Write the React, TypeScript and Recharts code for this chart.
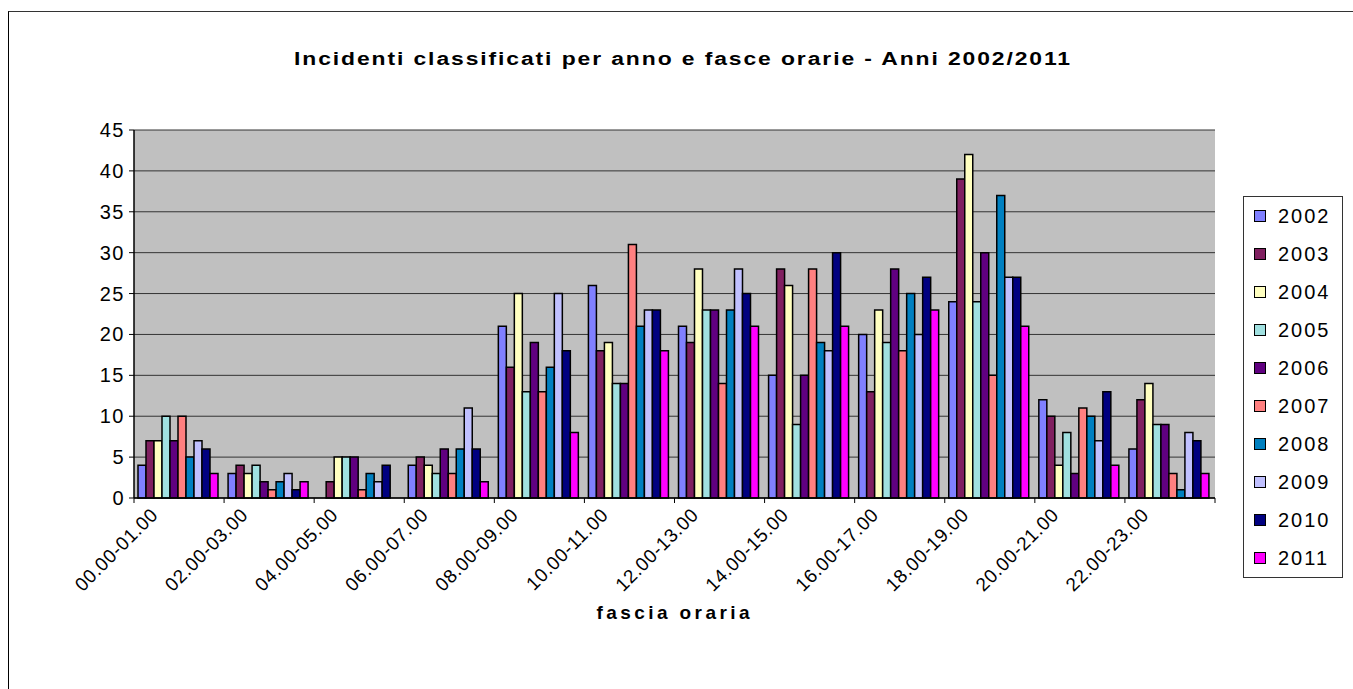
import { BarChart, Bar, XAxis, YAxis, CartesianGrid } from 'recharts'

const SLOTS = ['00.00-01.00', '02.00-03.00', '04.00-05.00', '06.00-07.00', '08.00-09.00', '10.00-11.00', '12.00-13.00', '14.00-15.00', '16.00-17.00', '18.00-19.00', '20.00-21.00', '22.00-23.00']
const YEARS = ['2002', '2003', '2004', '2005', '2006', '2007', '2008', '2009', '2010', '2011']
const COLORS = ['#8080FF', '#802060', '#FFFFC0', '#A0E0E0', '#600080', '#FF8080', '#0080C0', '#C0C0FF', '#000080', '#FF00FF']
const Y_TICKS = [0, 5, 10, 15, 20, 25, 30, 35, 40, 45]

const V2002 = [4, 3, 0, 4, 21, 26, 21, 15, 20, 24, 12, 6]
const V2003 = [7, 4, 2, 5, 16, 18, 19, 28, 13, 39, 10, 12]
const V2004 = [7, 3, 5, 4, 25, 19, 28, 26, 23, 42, 4, 14]
const V2005 = [10, 4, 5, 3, 13, 14, 23, 9, 19, 24, 8, 9]
const V2006 = [7, 2, 5, 6, 19, 14, 23, 15, 28, 30, 3, 9]
const V2007 = [10, 1, 1, 3, 13, 31, 14, 28, 18, 15, 11, 3]
const V2008 = [5, 2, 3, 6, 16, 21, 23, 19, 25, 37, 10, 1]
const V2009 = [7, 3, 2, 11, 25, 23, 28, 18, 20, 27, 7, 8]
const V2010 = [6, 1, 4, 6, 18, 23, 25, 30, 27, 27, 13, 7]
const V2011 = [3, 2, 0, 2, 8, 18, 21, 21, 23, 21, 4, 3]
const SERIES = [V2002, V2003, V2004, V2005, V2006, V2007, V2008, V2009, V2010, V2011]

const data = SLOTS.map((slot, i) => {
  const row: Record<string, string | number> = { slot }
  YEARS.forEach((y, k) => { row[y] = SERIES[k][i] })
  return row
})

const W = 1344
const H = 677
const PLOT_LEFT = 125
const PLOT_RIGHT = 1206
const PLOT_TOP = 118
const PLOT_BOTTOM = 486
const Y_AXIS_W = 60
const X_AXIS_H = 100
const BAND = (PLOT_RIGHT - PLOT_LEFT) / SLOTS.length
const FONT = 'Arial, "Liberation Sans", sans-serif'

const XTick = (props: any) => {
  const { x, payload, index } = props
  const half = BAND / 2
  const tx = x - 20
  const ty = PLOT_BOTTOM + 18
  return (
    <g>
      <line x1={x - half} x2={x - half} y1={PLOT_BOTTOM} y2={PLOT_BOTTOM + 5} stroke="#000" />
      {index === SLOTS.length - 1 && <line x1={x + half} x2={x + half} y1={PLOT_BOTTOM} y2={PLOT_BOTTOM + 5} stroke="#000" />}
      <text x={tx} y={ty} textAnchor="end" transform={`rotate(-45 ${tx} ${ty})`} fontFamily={FONT} fontSize={19} letterSpacing={0.6} fill="#000">
        {payload.value}
      </text>
    </g>
  )
}

const YTick = (props: any) => {
  const { y, payload } = props
  return (
    <text x={PLOT_LEFT - 9} y={y + 7} textAnchor="end" fontFamily={FONT} fontSize={20} letterSpacing={1.5} fill="#000">
      {payload.value}
    </text>
  )
}

export default function App() {
  return (
    <div style={{ position: 'absolute', left: 8, top: 11, width: W + 1, height: H + 1, borderLeft: '1px solid #000', borderTop: '1px solid #333', background: '#fff' }}>
      <div style={{ position: 'absolute', left: 0, top: 0 }}>
        <BarChart
          width={W}
          height={H}
          data={data}
          margin={{ top: PLOT_TOP, left: PLOT_LEFT - Y_AXIS_W, right: W - PLOT_RIGHT, bottom: H - PLOT_BOTTOM - X_AXIS_H }}
          barCategoryGap={4}
          barGap={0}
        >
          <CartesianGrid vertical={false} fill="#C0C0C0" fillOpacity={1} stroke="#333" strokeWidth={1} />
          <XAxis dataKey="slot" interval={0} height={X_AXIS_H} tick={<XTick />} tickLine={false} axisLine={{ stroke: '#000', strokeWidth: 1.5 }} />
          <YAxis width={Y_AXIS_W} domain={[0, 45]} ticks={Y_TICKS} interval={0} tick={<YTick />} tickSize={5} tickLine={{ stroke: '#000' }} axisLine={{ stroke: '#000', strokeWidth: 1.5 }} />
          <YAxis yAxisId="r" orientation="right" width={0} domain={[0, 45]} tick={false} tickLine={false} axisLine={{ stroke: '#808080', strokeWidth: 2 }} />
          {YEARS.map((y, k) => (
            <Bar key={y} dataKey={y} fill={COLORS[k]} stroke="#000" strokeWidth={1.5} isAnimationActive={false} />
          ))}
        </BarChart>
      </div>
      <svg width={W} height={H} style={{ position: 'absolute', left: 0, top: 0, pointerEvents: 'none' }}>
        <text x={674} y={53} textAnchor="middle" fontFamily={FONT} fontSize={18} fontWeight="bold" letterSpacing={1.5} textLength={778} lengthAdjust="spacingAndGlyphs">
          Incidenti classificati per anno e fasce orarie - Anni 2002/2011
        </text>
        <text x={664} y={607} textAnchor="middle" fontFamily={FONT} fontSize={19} fontWeight="bold" textLength={153} lengthAdjust="spacing">
          fascia oraria
        </text>
      </svg>
      <div style={{ position: 'absolute', left: 1234, top: 184, width: 98, height: 380, border: '1px solid #333', background: '#fff', fontFamily: FONT }}>
        {YEARS.map((y, k) => (
          <div key={y} style={{ height: 38, display: 'flex', alignItems: 'center', paddingLeft: 10 }}>
            <span style={{ width: 10, height: 10, background: COLORS[k], border: '1px solid #000', display: 'inline-block' }} />
            <span style={{ marginLeft: 12, fontSize: 20, letterSpacing: 2 }}>{y}</span>
          </div>
        ))}
      </div>
    </div>
  )
}
